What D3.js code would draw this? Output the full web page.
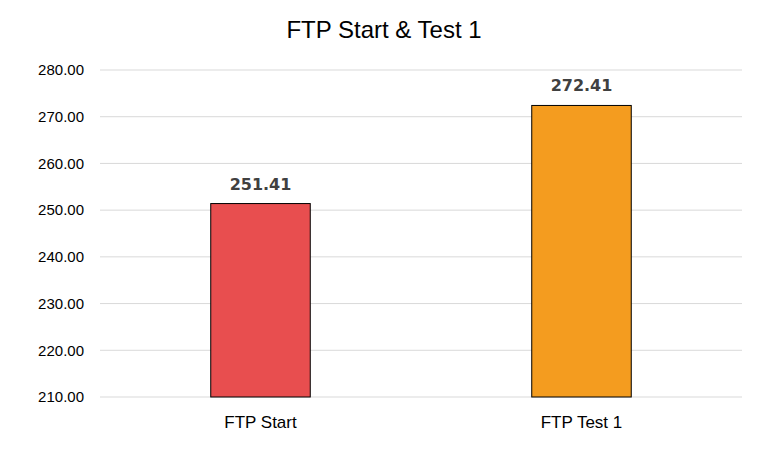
<!DOCTYPE html>
<html><head><meta charset="utf-8">
<script src="https://cdn.jsdelivr.net/npm/d3@7"></script>
<style>body{margin:0;background:#fff}</style>
</head><body>
<svg id="chart" width="768" height="451"></svg>
<script>
const categories = ["FTP Start", "FTP Test 1"];
const values = [251.41, 272.41];
const colors = ["#E84E4F", "#F49C1F"];
const yTicks = [210, 220, 230, 240, 250, 260, 270, 280];

const svg = d3.select("#chart");
const font = "'Liberation Sans', Arial, sans-serif";
const x = d3.scaleBand().domain(categories).range([100, 742]).paddingInner(0.69).paddingOuter(0.345);
const y = d3.scaleLinear().domain([210, 280]).range([397, 70]);

svg.append("text").attr("x", 384).attr("y", 38).attr("text-anchor", "middle")
  .style("font-family", font).style("font-size", "24px").attr("fill", "#000").text("FTP Start & Test 1");

svg.append("g").selectAll("line").data(yTicks).join("line")
  .attr("x1", 100).attr("x2", 742).attr("y1", d => y(d)).attr("y2", d => y(d))
  .attr("stroke", "#d9d9d9").attr("stroke-width", 1);

svg.append("g").selectAll("text").data(yTicks).join("text")
  .attr("x", 84).attr("y", d => y(d)).attr("dy", "0.35em").attr("text-anchor", "end")
  .style("font-family", font).style("font-size", "15px").attr("fill", "#000")
  .text(d => d.toFixed(2));

svg.append("g").selectAll("rect").data(values).join("rect")
  .attr("x", (d, i) => x(categories[i])).attr("width", x.bandwidth())
  .attr("y", d => y(d)).attr("height", d => y(210) - y(d))
  .attr("fill", (d, i) => colors[i]).attr("stroke", "#000").attr("stroke-width", 1);

svg.append("g").selectAll("text").data(values).join("text")
  .attr("x", (d, i) => x(categories[i]) + x.bandwidth() / 2).attr("y", d => y(d) - 14)
  .attr("text-anchor", "middle").style("font-family", "'DejaVu Sans', sans-serif")
  .style("font-size", "16px").style("font-weight", "bold").attr("fill", "#404040")
  .text(d => d.toFixed(2));

svg.append("g").selectAll("text").data(categories).join("text")
  .attr("x", d => x(d) + x.bandwidth() / 2).attr("y", 428).attr("text-anchor", "middle")
  .style("font-family", font).style("font-size", "17px").attr("fill", "#000").text(d => d);
</script>
</body></html>
